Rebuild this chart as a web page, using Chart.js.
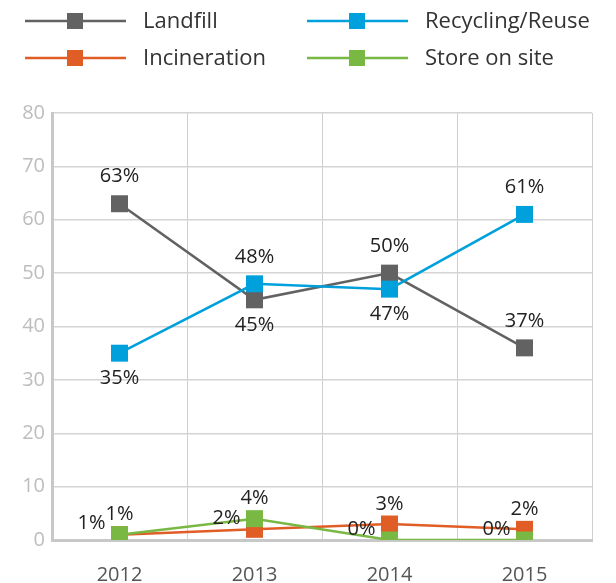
<!DOCTYPE html>
<html lang="en">
<head>
  <meta charset="UTF-8">
  <title>Waste handling 2012-2015</title>
  <script src="https://cdn.jsdelivr.net/npm/chart.js"></script>
  <style>
    body { margin: 0; background: #fff; }
    canvas { display: block; }
  </style>
</head>
<body>
  <canvas id="wasteChart" width="616" height="583"></canvas>

  <script>
    // data
    const years = ['2012', '2013', '2014', '2015'];
    const landfill = [63, 45, 50, 36];
    const recycling = [35, 48, 47, 61];
    const incineration = [1, 2, 3, 2];
    const storeOnSite = [1, 4, 0, 0];

    // printed labels (the chart shows 37% for the last landfill point)
    const landfillLabels = ['63%', '45%', '50%', '37%'];
    const recyclingLabels = ['35%', '48%', '47%', '61%'];
    const incinerationLabels = ['1%', '2%', '3%', '2%'];
    const storeLabels = ['1%', '4%', '0%', '0%'];

    const yTicks = [0, 10, 20, 30, 40, 50, 60, 70, 80];

    const FONT = "'Open Sans', sans-serif";

    function series(label, data, labels, color, place, order) {
      return {
        label: label,
        data: data,
        valueLabels: labels,
        labelPlace: place,
        order: order,
        borderColor: color,
        backgroundColor: color,
        borderWidth: 2.5,
        pointStyle: 'rect',
        pointRadius: 12,
        pointHoverRadius: 12,
        pointBorderWidth: 0,
        tension: 0
      };
    }

    // draws the % text next to each point
    const valueLabels = {
      id: 'valueLabels',
      afterDatasetsDraw(chart) {
        const ctx = chart.ctx;
        ctx.save();
        ctx.font = '20px ' + FONT;
        ctx.fillStyle = '#222';
        ctx.textBaseline = 'middle';
        chart.data.datasets.forEach((ds, i) => {
          const meta = chart.getDatasetMeta(i);
          meta.data.forEach((pt, j) => {
            const place = ds.labelPlace[j];
            const txt = ds.valueLabels[j];
            ctx.textAlign = 'center';
            if (place === 'above') {
              ctx.fillText(txt, pt.x, pt.y - 27);
            } else if (place === 'up') {
              ctx.fillText(txt, pt.x, pt.y - 20);
            } else if (place === 'below') {
              ctx.fillText(txt, pt.x, pt.y + 25);
            } else {
              ctx.textAlign = 'right';
              ctx.fillText(txt, pt.x - 14, pt.y - 11);
            }
          });
        });
        ctx.restore();
      }
    };

    // two-column legend at the top, line with a square marker
    const topLegend = {
      id: 'topLegend',
      afterDraw(chart) {
        const ctx = chart.ctx;
        const spots = [[25, 21], [307, 21], [25, 58], [307, 58]];
        ctx.save();
        ctx.font = '22px ' + FONT;
        ctx.textBaseline = 'middle';
        ctx.textAlign = 'left';
        chart.data.datasets.forEach((ds, i) => {
          const [x, y] = spots[i];
          ctx.strokeStyle = ds.borderColor;
          ctx.lineWidth = 2.5;
          ctx.beginPath();
          ctx.moveTo(x, y);
          ctx.lineTo(x + 101, y);
          ctx.stroke();
          ctx.fillStyle = ds.borderColor;
          ctx.fillRect(x + 42, y - 8, 16, 16);
          ctx.fillStyle = '#333';
          ctx.fillText(ds.label, x + 118, y + 1);
        });
        ctx.restore();
      }
    };

    const ctx = document.getElementById('wasteChart').getContext('2d');
    new Chart(ctx, {
      type: 'line',
      data: {
        labels: years,
        datasets: [
          series('Landfill', landfill, landfillLabels, '#626262', ['above', 'below', 'above', 'above'], 3),
          series('Recycling/Reuse', recycling, recyclingLabels, '#00a0dc', ['below', 'above', 'below', 'above'], 2),
          series('Incineration', incineration, incinerationLabels, '#e15d26', ['left', 'left', 'up', 'up'], 1),
          series('Store on site', storeOnSite, storeLabels, '#78b843', ['up', 'up', 'left', 'left'], 0)
        ]
      },
      options: {
        responsive: false,
        animation: false,
        layout: { padding: { top: 113, right: 24, left: 0, bottom: 0 } },
        plugins: {
          legend: { display: false },
          tooltip: { enabled: false }
        },
        scales: {
          x: {
            offset: true,
            afterFit(scale) { scale.height = 43; },
            grid: { offset: true, color: '#cfcfcf', lineWidth: 1, drawTicks: false },
            border: { color: '#c8c8c8', width: 3 },
            ticks: { color: '#555', font: { family: FONT, size: 20 }, padding: 23 }
          },
          y: {
            min: 0,
            max: 80,
            afterFit(scale) { scale.width = 52; },
            afterBuildTicks(scale) { scale.ticks = yTicks.map(v => ({ value: v })); },
            grid: { color: '#d4d4d4', lineWidth: 1.5, drawTicks: false },
            border: { color: '#c8c8c8', width: 3 },
            ticks: { color: '#bdbdbd', font: { family: FONT, size: 20 }, padding: 7 }
          }
        }
      },
      plugins: [valueLabels, topLegend]
    });
  </script>
</body>
</html>
